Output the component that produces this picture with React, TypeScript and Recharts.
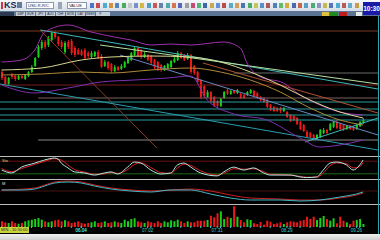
import { ComposedChart, Bar, Line, XAxis, YAxis, ReferenceLine, Cell } from 'recharts'

// candle prices (index = bar number)
const opens = [128,123,116,126,124,121,124,121,124,128, 134,143,152,158,155,160,167,163,158,148, 158,159,152,150,149,150,147,143,144,148, 144,134,138,136,129,133,131,133,137,140, 145,152,150,143,145,144,140,138,135,130, 132,133,138,140,147,145,141,145,134,128, 120,114,103,108,103,99,94,102,110,106, 109,107,106,105,105,107,109,107,103,102, 100,95,93,92,92,89,88,85,84,82, 78,75,68,67,65,61,63,67,70,70, 73,78,76,75,71,74,73,71,74,77]
const closes = [122,116,122,123,121,124,122,125,128,133, 142,153,158,153,162,167,163,156,153,157, 153,147,145,146,145,142,144,147,148,142, 133,138,132,129,133,130,134,138,142,147, 152,144,143,146,140,137,133,131,130,134, 136,139,141,147,142,140,145,128,127,118, 103,104,108,99,94,94,101,108,106,109, 107,110,102,102,108,110,104,102,100,98, 93,90,89,89,89,92,83,79,80,76, 71,69,63,63,61,65,70,70,67,76, 78,72,71,70,74,71,70,75,78,80]
const highs = [130,124,123,127,125,125,126,126,129,135, 143,155,160,160,164,169,169,164,160,159, 160,161,154,152,151,152,149,149,149,150, 146,140,139,137,135,134,136,139,144,148, 154,154,151,148,146,145,141,139,136,135, 137,140,143,149,148,146,147,146,135,129, 121,115,110,109,104,100,102,109,111,110, 110,111,107,106,109,111,110,108,104,103, 101,96,94,93,93,93,89,86,85,83, 79,76,70,68,66,66,71,72,71,77, 79,80,77,76,75,75,74,76,79,82]
const lows = [120,115,115,121,119,120,121,120,123,127, 133,142,150,151,153,158,161,154,151,146, 151,145,143,145,144,141,142,142,143,141, 132,133,130,127,128,129,130,132,136,139, 144,143,141,142,139,135,131,129,128,129, 131,132,137,139,141,139,140,126,125,116, 101,102,102,97,93,92,93,101,105,105, 106,106,101,101,104,106,103,101,99,97, 92,89,88,88,87,88,82,78,79,75, 70,68,62,62,60,60,62,66,66,69, 72,71,70,69,70,70,69,70,73,76]
const volumes = [570,470,400,570,400,330,400,570,670,730, 800,900,730,570,470,570,670,730,570,670, 570,400,470,570,400,330,400,470,570,400, 470,570,400,470,570,470,400,730,570,800, 870,570,470,400,570,470,400,570,400,570, 470,670,570,730,570,400,570,470,470,630, 630,630,700,1130,970,1370,1570,800,1030,900, 2070,1030,700,470,770,700,370,300,500,230, 630,530,300,370,470,300,470,570,530,470, 630,700,1030,800,1030,700,900,1100,800,630, 870,370,1030,630,470,300,630,700,800,300]

// overlays, [bar index, value]
const bbUpper = [[0,138],[6,140],[10,150],[13,168],[20,175],[27,168],[34,163],[39,160],[45,155],[51,156],[57,155],[67,158],[72,152],[74,137],[78,123],[85,117],[90,105],[96,95],[102,88],[109,85]]
const bbLower = [[0,115],[10,107],[20,112],[30,118],[40,120],[50,122],[57,124],[62,100],[70,86],[80,80],[90,62],[96,53],[102,55],[109,60]]
const ma1 = [[0,130],[12,132],[24,140],[33,143],[45,144],[57,143],[66,138],[75,128],[84,115],[93,100],[102,88],[109,82]]
const ma2 = [[0,125],[12,126],[24,128],[33,127],[45,130],[57,132],[66,128],[75,120],[84,108],[93,92],[102,80],[109,75]]

// stochastic
const stochK = [[0,38],[3,24],[6,52],[10,71],[13,86],[16,95],[17,90],[18,71],[20,48],[22,29],[25,24],[28,14],[31,24],[33,29],[35,19],[38,52],[40,76],[42,71],[45,38],[48,19],[51,24],[53,62],[55,71],[57,52],[60,24],[65,10],[67,29],[70,52],[73,38],[76,48],[79,24],[81,14],[87,14],[90,5],[92,2],[95,5],[97,38],[99,71],[101,76],[104,62],[106,38],[108,62],[109,86]]
const stochD = [[0,45],[3,30],[6,45],[10,65],[13,80],[16,92],[18,85],[20,62],[22,40],[25,28],[28,18],[31,20],[33,26],[35,22],[38,40],[40,64],[42,72],[45,50],[48,26],[51,22],[53,48],[55,66],[57,60],[60,34],[65,14],[67,22],[70,44],[73,42],[76,44],[79,30],[81,18],[87,14],[90,8],[92,4],[95,4],[97,24],[99,58],[101,72],[104,68],[106,48],[108,54],[109,74]]

// macd
const macdLine = [[0,1],[6,1],[10,2],[13,5],[16,8],[20,9],[24,8],[28,5],[33,2],[39,0],[45,-1],[51,1],[57,1],[63,-3],[69,-7],[75,-9],[84,-9],[90,-10],[96,-9],[102,-6],[107,-3],[109,-1]]
const signalLine = [[0,1],[10,3],[13,6],[16,9],[20,10],[24,9],[28,6],[33,3],[39,1],[45,0],[51,1],[57,2],[63,0],[69,-4],[75,-7],[84,-8],[90,-9],[96,-9],[102,-7],[107,-4],[109,-2]]

// drawn levels and trend lines
const hLevels = [
  { y: 169, from: -0.5, color: '#7a3a22' },
  { y: 127, from: 70, color: '#6a6a6a' },
  { y: 115, from: -0.5, color: '#7a1c1c' },
  { y: 102, from: 11, color: '#7a6060' },
  { y: 98, from: -0.5, color: '#2a9c9c' },
  { y: 91, from: -0.5, color: '#2a9c9c' },
  { y: 85, from: -0.5, color: '#2a9c9c' },
  { y: 80, from: -0.5, color: '#2a9c9c' },
  { y: 60, from: 11, color: '#8a8a8a' },
]
const trendLines = [
  { from: [11.6, 170], to: [113.5, 111], color: '#3cb8b8' },
  { from: [29.7, 155], to: [113.5, 116], color: '#b8e0a0' },
  { from: [11.6, 170], to: [46.8, 52], color: '#8a3a2a' },
  { from: [-0.5, 116], to: [113.5, 50], color: '#2a9cb0' },
  { from: [35.7, 145], to: [113.5, 65], color: '#6a88c0' },
  { from: [91.5, 58], to: [113.5, 82], color: '#3cb8b8' },
  { from: [60.7, 137], to: [113.5, 87], color: '#b05030' },
]

const tickIdx = [24, 44, 65, 86, 107]
const tickLabels = ['06.04', '07.02', '07.31', '08.29', '09.26']

const RED = '#f01818'
const GREEN = '#18d018'

const pts = (arr: number[][]) => {
  const m: Record<number, number> = {}
  arr.forEach(([i, v]) => (m[i] = v))
  return m
}
const bu = pts(bbUpper), bl = pts(bbLower), m1 = pts(ma1), m2 = pts(ma2)
const sk = pts(stochK), sd = pts(stochD), mc = pts(macdLine), sg = pts(signalLine)

const data = opens.map((o, i) => ({
  i,
  open: o,
  close: closes[i],
  high: highs[i],
  low: lows[i],
  range: [lows[i], highs[i]],
  vol: volumes[i],
  bbu: bu[i] ?? null,
  bbl: bl[i] ?? null,
  ma1: m1[i] ?? null,
  ma2: m2[i] ?? null,
  k: sk[i] ?? null,
  d: sd[i] ?? null,
  macd: mc[i] ?? null,
  signal: sg[i] ?? null,
}))

const xDomain = [-0.5, 113.5]
const xTicks = opens.map((_, i) => i).filter((i) => i % 3 === 0)

const Candle = (props: any) => {
  const { x, y, width, height, payload } = props
  const h = Math.abs(height)
  const top = Math.min(y, y + height)
  const ppu = h / (payload.high - payload.low || 1)
  const up = payload.close >= payload.open
  const color = up ? GREEN : RED
  const bodyTop = top + (payload.high - Math.max(payload.open, payload.close)) * ppu
  const bodyH = Math.max(1, Math.abs(payload.open - payload.close) * ppu)
  const cx = x + width / 2
  return (
    <g>
      <line x1={cx} x2={cx} y1={top} y2={top + h} stroke={color} strokeWidth={1} />
      <rect x={x} y={bodyTop} width={width} height={bodyH} fill={color} />
    </g>
  )
}

const AxisTick = ({ x, y, payload }: any) => {
  const k = tickIdx.indexOf(payload.value)
  return (
    <g>
      <line x1={x} x2={x} y1={y - 1} y2={y + 1} stroke="#30c0c0" strokeWidth={1} />
      {k >= 0 && (
        <text x={x} y={y + 5} textAnchor="middle" fontSize={4.5} fill="#40d0d0">
          {tickLabels[k]}
        </text>
      )}
    </g>
  )
}

const Sep = ({ top }: { top: number }) => (
  <div style={{ position: 'absolute', left: 0, top, width: 380, height: 1, background: '#bcbcbc' }} />
)

const iconColors = ['#3060c0', '#c03030', '#30a0d0', '#d08020', '#4070b0', '#30a040', '#c0c0c0', '#6080c0', '#d0b020', '#3090c0', '#c04040', '#5070a0', '#30a0a0', '#d06030', '#4050b0', '#909090', '#c03060', '#30b060', '#2050a0', '#c0a030', '#5080d0', '#b03030', '#40a0c0', '#d09040', '#3060a0', '#30a050', '#c0c040', '#4080c0', '#a04040', '#3070b0', '#50b050', '#d0a020', '#3050a0', '#c05030', '#4090c0', '#30a060', '#8080c0', '#c0b030', '#4060b0', '#30a0d0', '#b04040', '#50a0c0', '#c09030']

export default function App() {
  return (
    <div style={{ position: 'absolute', left: 0, top: 0, width: 380, height: 240, background: '#000', overflow: 'hidden', fontFamily: '"Liberation Sans", Arial, sans-serif' }}>
      {/* toolbar */}
      <div style={{ position: 'absolute', left: 0, top: 0, width: 380, height: 11, background: 'linear-gradient(#f6f8fa, #d6dde6)' }}>
        <div style={{ position: 'absolute', left: 1, top: 2, width: 2, height: 7, background: '#d03050' }} />
        <span style={{ position: 'absolute', left: 4, top: 0, fontSize: 9, fontWeight: 700, color: '#1c2858', lineHeight: '11px' }}>KS</span>
        <div style={{ position: 'absolute', left: 17, top: 2, width: 5, height: 6, background: '#6a7a9a' }} />
        <div style={{ position: 'absolute', left: 26, top: 2, width: 28, height: 7, background: '#fff', border: '1px solid #8a9ab0', boxSizing: 'border-box', fontSize: 4, lineHeight: '5px', color: '#223', paddingLeft: 1 }}>USD-R-R/C</div>
        <div style={{ position: 'absolute', left: 58, top: 2, width: 4, height: 7, background: '#9aa6b6' }} />
        <div style={{ position: 'absolute', left: 67, top: 2, width: 20, height: 7, background: '#fff', border: '1px solid #8a9ab0', boxSizing: 'border-box', fontSize: 4, lineHeight: '5px', color: '#223', paddingLeft: 1 }}>VALUE</div>
        {iconColors.map((c, k) => (
          <div key={k} style={{ position: 'absolute', left: 90 + k * 6.3, top: 3, width: 4, height: 5, background: c, opacity: 0.85 }} />
        ))}
      </div>
      {/* tab strip */}
      <div style={{ position: 'absolute', left: 0, top: 11, width: 380, height: 5, background: '#5c7594' }}>
        {['', 'GBP', 'EUR', 'JPY', 'AUD', 'CHF', 'MON', 'DAY', 'WEEK', 'F'].map((t, k) => (
          <div key={k} style={{ position: 'absolute', left: [0, 16, 26, 36, 46, 56, 66, 76, 86, 96][k], top: 0.5, width: k === 0 ? 14 : 9, height: 4, background: k === 0 ? '#2a3a50' : '#c4ccd6', fontSize: 3, lineHeight: '4px', color: '#223', textAlign: 'center', overflow: 'hidden' }}>{t}</div>
        ))}
        <div style={{ position: 'absolute', left: 104, top: 0.5, width: 6, height: 4, background: '#c4ccd6' }} />
        <div style={{ position: 'absolute', left: 322, top: 0.5, width: 7, height: 4, background: '#e0c040' }} />
        <div style={{ position: 'absolute', left: 330, top: 0.5, width: 8, height: 4, background: '#208a20' }} />
        <div style={{ position: 'absolute', left: 339, top: 0.5, width: 8, height: 4, background: '#c01c1c' }} />
        <div style={{ position: 'absolute', left: 356, top: 0.5, width: 6, height: 4, background: '#e8e8e8' }} />
      </div>
      <div style={{ position: 'absolute', left: 363, top: 2, width: 17, height: 13, background: '#1a1aa8', color: '#fff', fontSize: 6.5, fontWeight: 700, lineHeight: '13px', textAlign: 'center' }}>10:30</div>

      {/* main price panel */}
      <div style={{ position: 'absolute', left: 0, top: 16 }}>
        <ComposedChart width={378} height={140} data={data} margin={{ top: 1, right: 0, left: 0, bottom: 1 }}>
          <XAxis dataKey="i" type="number" domain={xDomain} hide />
          <YAxis domain={[45, 183]} hide allowDataOverflow />
          {hLevels.map((l, k) => (
            <ReferenceLine key={'h' + k} segment={[{ x: l.from, y: l.y }, { x: 113.5, y: l.y }]} stroke={l.color} strokeWidth={1} ifOverflow="hidden" />
          ))}
          {trendLines.map((l, k) => (
            <ReferenceLine key={'t' + k} segment={[{ x: l.from[0], y: l.from[1] }, { x: l.to[0], y: l.to[1] }]} stroke={l.color} strokeWidth={1} ifOverflow="hidden" />
          ))}
          <Line dataKey="bbu" stroke="#a030b0" strokeWidth={1} dot={false} connectNulls type="monotone" isAnimationActive={false} />
          <Line dataKey="bbl" stroke="#8030b0" strokeWidth={1} dot={false} connectNulls type="monotone" isAnimationActive={false} />
          <Line dataKey="ma1" stroke="#d8d890" strokeWidth={1} dot={false} connectNulls type="monotone" isAnimationActive={false} />
          <Line dataKey="ma2" stroke="#b08a3a" strokeWidth={1} dot={false} connectNulls type="monotone" isAnimationActive={false} />
          <Bar dataKey="range" barSize={2} shape={<Candle />} isAnimationActive={false} />
        </ComposedChart>
      </div>
      <Sep top={156} />

      {/* stochastic */}
      <div style={{ position: 'absolute', left: 0, top: 157 }}>
        <ComposedChart width={378} height={22} data={data} margin={{ top: 0, right: 0, left: 0, bottom: 1 }}>
          <XAxis dataKey="i" type="number" domain={xDomain} hide />
          <YAxis domain={[0, 100]} hide allowDataOverflow />
          <ReferenceLine y={80} stroke="#6a1010" />
          <ReferenceLine y={20} stroke="#1a6a1a" />
          <Line dataKey="d" stroke="#e02020" strokeWidth={1} dot={false} connectNulls type="monotone" isAnimationActive={false} />
          <Line dataKey="k" stroke="#b0e8e8" strokeWidth={1} dot={false} connectNulls type="monotone" isAnimationActive={false} />
        </ComposedChart>
      </div>
      <span style={{ position: 'absolute', left: 2, top: 159, fontSize: 4, color: '#d8d860', lineHeight: '4px' }}>Sto</span>
      <Sep top={179} />

      {/* macd */}
      <div style={{ position: 'absolute', left: 0, top: 180 }}>
        <ComposedChart width={378} height={24} data={data} margin={{ top: 0, right: 0, left: 0, bottom: 0 }}>
          <XAxis dataKey="i" type="number" domain={xDomain} hide />
          <YAxis domain={[-13, 11]} hide allowDataOverflow />
          <ReferenceLine y={0} stroke="#4a1010" />
          <Line dataKey="signal" stroke="#d02020" strokeWidth={1} dot={false} connectNulls type="monotone" isAnimationActive={false} />
          <Line dataKey="macd" stroke="#40b8c8" strokeWidth={1} dot={false} connectNulls type="monotone" isAnimationActive={false} />
        </ComposedChart>
      </div>
      <span style={{ position: 'absolute', left: 2, top: 182, fontSize: 4, color: '#e0e0e0', lineHeight: '4px' }}>M</span>
      <Sep top={204} />

      {/* volume + time axis */}
      <div style={{ position: 'absolute', left: 0, top: 205 }}>
        <ComposedChart width={378} height={29} data={data} margin={{ top: 0, right: 0, left: 0, bottom: 0 }}>
          <XAxis dataKey="i" type="number" domain={xDomain} ticks={xTicks.concat(tickIdx)} interval={0} height={7} axisLine={false} tickLine={false} tickSize={0} tickMargin={0} tick={<AxisTick />} />
          <YAxis domain={[0, 2200]} hide allowDataOverflow />
          <Bar dataKey="vol" barSize={2} isAnimationActive={false}>
            {data.map((d, k) => (
              <Cell key={k} fill={d.close >= d.open ? GREEN : RED} />
            ))}
          </Bar>
        </ComposedChart>
      </div>
      <div style={{ position: 'absolute', left: 0, top: 227, width: 28, height: 6, background: '#c8d43c', fontSize: 4, lineHeight: '6px', color: '#222', paddingLeft: 1, whiteSpace: 'nowrap', overflow: 'hidden' }}>MIN - 10:30:00</div>

      {/* price axis edge */}
      <div style={{ position: 'absolute', left: 378, top: 16, width: 1, height: 218, background: '#2aa8b0' }} />
      {/* status strip */}
      <div style={{ position: 'absolute', left: 0, top: 234, width: 380, height: 6, background: 'linear-gradient(#f0f0f0, #cfcfcf)' }} />
    </div>
  )
}
